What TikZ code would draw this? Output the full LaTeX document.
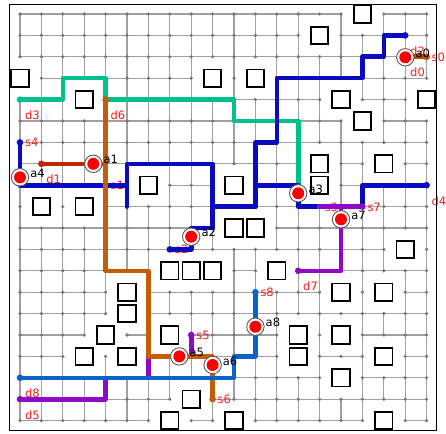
\documentclass[tikz,border=0pt]{standalone}
\usepackage{fontspec}
\setmainfont{DejaVu Sans}
\definecolor{cBrown}{RGB}{184,72,12}
\definecolor{cRedBrown}{RGB}{190,40,0}
\definecolor{cBlue}{RGB}{10,10,190}
\definecolor{cGreen}{RGB}{0,192,140}
\definecolor{cPurple}{RGB}{140,10,200}
\definecolor{cOrange}{RGB}{196,92,8}
\definecolor{cMidBlue}{RGB}{10,100,200}
\definecolor{cLabel}{RGB}{255,25,25}
\definecolor{cGrid}{RGB}{160,160,160}
\definecolor{cDot}{RGB}{120,120,120}
\definecolor{cRing}{RGB}{90,90,90}
\def\obstacles{16/0,14/1,0/3,9/3,11/3,3/4,15/4,19/4,16/5,14/7,17/7,14/8,10/8,6/8,1/9,3/9,10/10,11/10,18/11,7/12,8/12,9/12,12/12,5/13,15/13,17/13,5/14,4/15,7/15,13/15,15/15,3/16,5/16,13/16,17/16,15/17,8/18,7/19,10/19,17/19}
\begin{document}
\begin{tikzpicture}[x=1pt,y=-1pt,
  gridline/.style={draw=cGrid, line width=1.1},
  griddot/.style={fill=cDot},
  obst/.style={draw=black, line width=1.9, fill=white, rectangle, minimum size=17.4pt, inner sep=0pt},
  route/.style={line width=4.6pt, line cap=round, line join=round},
  agentring/.style={circle, draw=cRing, fill=white, line width=0.9pt, minimum size=17.4pt, inner sep=0pt},
  agentdot/.style={circle, fill=red, minimum size=12pt, inner sep=0pt},
  alabel/.style={anchor=base west, inner sep=0pt, text=black, font=\fontsize{11.5}{13}\selectfont},
  rlabel/.style={anchor=base west, inner sep=0pt, text=cLabel, font=\fontsize{11.5}{13}\selectfont}]
\useasboundingbox (0,0) rectangle (446,433);
\fill[white] (0,0) rectangle (446,433);
% grid coordinates
\foreach \i in {0,...,19}{
  \foreach \j in {0,...,19}{
    \coordinate (g-\i-\j) at ({20+21.4*\i},{14+21.4*\j});
  }
}
\foreach \a/\b in \obstacles {\expandafter\gdef\csname ob-\a-\b\endcsname{x}}
% horizontal edges
\foreach \i in {0,...,18}{
  \foreach \j in {0,...,19}{
    \pgfmathtruncatemacro\k{\i+1}
    \ifcsname ob-\i-\j\endcsname\else\ifcsname ob-\k-\j\endcsname\else
      \draw[gridline] (g-\i-\j) -- (g-\k-\j);
    \fi\fi
  }
}
% vertical edges
\foreach \i in {0,...,19}{
  \foreach \j in {0,...,18}{
    \pgfmathtruncatemacro\k{\j+1}
    \ifcsname ob-\i-\j\endcsname\else\ifcsname ob-\i-\k\endcsname\else
      \draw[gridline] (g-\i-\j) -- (g-\i-\k);
    \fi\fi
  }
}
% grid dots
\foreach \i in {0,...,19}{
  \foreach \j in {0,...,19}{
    \ifcsname ob-\i-\j\endcsname\else
      \fill[griddot] (g-\i-\j) circle[radius=1.8pt];
    \fi
  }
}
% obstacles
\foreach \a/\b in \obstacles {\node[obst] (ob-\a-\b) at (g-\a-\b) {};}
% start / destination labels
\foreach \n/\a/\b in {0/18/2,1/1/7,2/18/1,3/0/4,4/19/8,5/0/18,6/4/4,7/13/12,8/0/17}
  {\node[rlabel, xshift=4.8pt, yshift=-20pt] (dl\n) at (g-\a-\b) {d\n};}
\foreach \n/\a/\b in {0/19/2,1/4/8,2/7/11,3/14/9,4/0/6,5/8/15,6/9/18,7/16/9,8/11/13}
  {\node[rlabel, xshift=4.9pt, yshift=-4.5pt] (sl\n) at (g-\a-\b) {s\n};}
% routes
\draw[route, cBrown] (g-19-2) -- (g-18-2);
\fill[cBrown] (g-19-2) circle[radius=3.3pt];
\draw[route, cRedBrown] (g-4-8) -- (g-4-7) -- (g-1-7);
\fill[cRedBrown] (g-1-7) circle[radius=3.3pt];
\draw[route, cGreen] (g-14-9) -- (g-13-9) -- (g-13-5) -- (g-10-5) -- (g-10-4) -- (g-4-4) -- (g-4-3) -- (g-2-3) -- (g-2-4) -- (g-0-4);
\fill[cGreen] (g-0-4) circle[radius=3.3pt];
\draw[route, cBlue] (g-7-11) -- (g-8-11) -- (g-8-10) -- (g-9-10) -- (g-9-9) -- (g-11-9) -- (g-11-6) -- (g-12-6) -- (g-12-3) -- (g-16-3) -- (g-16-2) -- (g-17-2) -- (g-17-1) -- (g-18-1);
\fill[cBlue] (g-7-11) circle[radius=3.3pt] (g-18-1) circle[radius=3.3pt];
\draw[route, cBlue] (g-0-6) -- (g-0-8) -- (g-5-8) -- (g-5-9) -- (g-5-7) -- (g-9-7) -- (g-9-9) -- (g-11-9) -- (g-11-8) -- (g-13-8) -- (g-13-9) -- (g-16-9) -- (g-16-8) -- (g-19-8);
\fill[cBlue] (g-0-6) circle[radius=3.3pt] (g-19-8) circle[radius=3.3pt];
\fill[cGreen] (g-14-9) circle[radius=2.6pt];
\draw[route, cPurple] (g-8-15) -- (g-8-16) -- (g-6-16) -- (g-6-17) -- (g-4-17) -- (g-4-18) -- (g-0-18);
\fill[cPurple] (g-8-15) circle[radius=3.3pt] (g-0-18) circle[radius=3.3pt];
\draw[route, cOrange] (g-9-18) -- (g-9-16) -- (g-6-16) -- (g-6-12) -- (g-4-12) -- (g-4-4);
\fill[cOrange] (g-9-18) circle[radius=3.3pt] (g-4-4) circle[radius=3.3pt];
\draw[route, cPurple] (g-16-9) -- (g-14-9) -- (g-15-9) -- (g-15-12) -- (g-13-12);
\fill[cPurple] (g-16-9) circle[radius=3.3pt] (g-13-12) circle[radius=3.3pt];
\draw[route, cMidBlue] (g-11-13) -- (g-11-16) -- (g-10-16) -- (g-10-17) -- (g-0-17);
\fill[cMidBlue] (g-11-13) circle[radius=3.3pt] (g-0-17) circle[radius=3.3pt];
% agents
\foreach \n/\x/\y in {0/405.3/57.3,1/93.3/163.8,2/191.2/236.7,3/298.2/193.3,4/20/177.3,5/179.3/356.4,6/212.6/365,7/341/219.3,8/255.4/326.7}{
  \node[agentring] (r\n) at (\x,\y) {};
  \node[agentdot] (a\n) at (\x,\y) {};
  \node[alabel, xshift=10.1pt] (al\n) at (a\n.center) {a\n};
}
% frame
\draw[black, line width=1.2pt] (9.2,4.6) rectangle (436.5,430.3);
\end{tikzpicture}
\end{document}
